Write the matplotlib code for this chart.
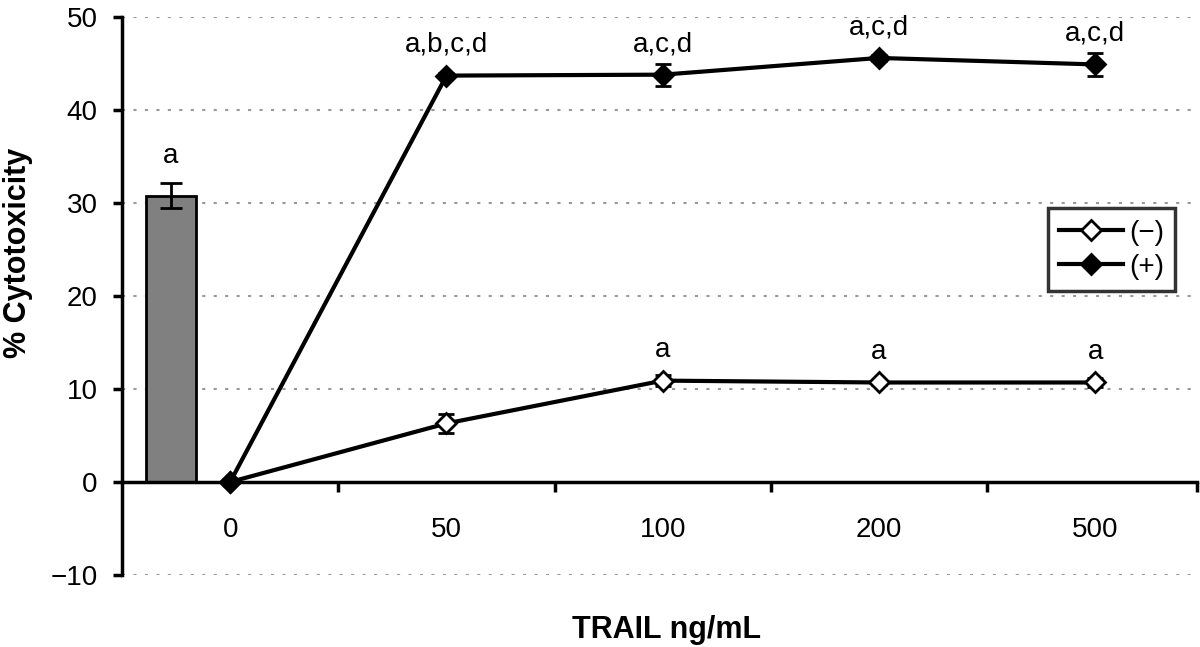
import numpy as np
import matplotlib.pyplot as plt
from matplotlib.lines import Line2D

plt.rcParams['font.family'] = ['Liberation Sans', 'DejaVu Sans']

# Werte
dosi = ['0', '50', '100', '200', '500']
neg_val = [0.0, 6.3, 10.9, 10.7, 10.7]
neg_err = [0.0, 1.0, 0.6, 0.3, 0.5]
pos_val = [0.0, 43.7, 43.8, 45.6, 44.9]
pos_err = [0.0, 0.3, 1.2, 0.3, 1.2]
bar_val = 30.8
bar_err = 1.3
bar_lettera = 'a'
neg_lettere = ['', '', 'a', 'a', 'a']
pos_lettere = ['', 'a,b,c,d', 'a,c,d', 'a,c,d', 'a,c,d']
y_ticks = [-10, 0, 10, 20, 30, 40, 50]


def main():
    fig = plt.figure(figsize=(12, 6.47), dpi=100)
    ax = fig.add_axes([0.1017, 0.1113, 0.8958, 0.8624])

    x = np.arange(len(dosi))
    x_bar = -0.275

    # barra di controllo
    ax.bar(x_bar, bar_val, width=0.23, color='#808080', edgecolor='black',
           linewidth=2, zorder=2)
    ax.errorbar(x_bar, bar_val, yerr=bar_err, fmt='none', ecolor='black',
                elinewidth=2, capsize=8, capthick=2, zorder=3)

    ax.errorbar(x, neg_val, yerr=neg_err, color='black', lw=3, marker='D',
                ms=10, mfc='white', mec='black', mew=2, ecolor='black',
                elinewidth=2, capsize=6, capthick=2.5, zorder=4)
    ax.errorbar(x, pos_val, yerr=pos_err, color='black', lw=3, marker='D',
                ms=10, mfc='black', mec='black', mew=2, ecolor='black',
                elinewidth=2, capsize=6, capthick=2.5, zorder=4)

    # lettere di significatività
    ax.text(x_bar, bar_val + bar_err + 1.6, bar_lettera, ha='center',
            va='bottom', fontsize=20)
    for i in range(len(dosi)):
        if neg_lettere[i]:
            ax.text(x[i], neg_val[i] + 1.9, neg_lettere[i], ha='center',
                    va='bottom', fontsize=20)
        if pos_lettere[i]:
            ax.text(x[i], pos_val[i] + 1.9, pos_lettere[i], ha='center',
                    va='bottom', fontsize=20)

    ax.set_xlim(-0.5, 4.47)
    ax.set_ylim(-10, 50)
    ax.set_yticks(y_ticks)
    ax.set_yticklabels([str(v).replace('-', '\u2212') for v in y_ticks])
    for y in y_ticks:
        if y != 0:
            ax.axhline(y, color='#999999', lw=1.5, ls=(0, (1.5, 4)), zorder=1)

    ax.spines['top'].set_visible(False)
    ax.spines['right'].set_visible(False)
    ax.spines['left'].set_linewidth(2.5)
    ax.spines['bottom'].set_linewidth(2.5)
    ax.spines['bottom'].set_position(('data', 0))
    ax.spines['left'].set_zorder(5)
    ax.spines['bottom'].set_zorder(5)

    ax.set_xticks(x)
    ax.set_xticklabels(dosi)
    ax.set_xticks([0.5, 1.5, 2.5, 3.5, 4.47], minor=True)
    ax.tick_params(axis='x', which='major', length=0, pad=25, labelsize=20)
    ax.tick_params(axis='x', which='minor', direction='out', length=7,
                   width=2.5)
    ax.tick_params(axis='y', direction='out', length=6.5, width=2.5,
                   labelsize=20, pad=11)

    ax.set_ylabel('% Cytotoxicity', fontsize=22, fontweight='bold')
    ax.yaxis.set_label_coords(-0.083, 0.578)
    ax.set_xlabel('TRAIL ng/mL', fontsize=22, fontweight='bold')
    ax.xaxis.set_label_coords(0.507, -0.072)

    maniglie = [
        Line2D([], [], color='black', lw=3, marker='D', ms=10, mfc='white',
               mec='black', mew=2),
        Line2D([], [], color='black', lw=3, marker='D', ms=10, mfc='black',
               mec='black', mew=2),
    ]
    leg = ax.legend(maniglie, ['(\u2212)', '(+)'], loc='upper right',
                    bbox_to_anchor=(0.9795, 0.657), fontsize=20, frameon=True,
                    fancybox=False, edgecolor='black', handlelength=2.3,
                    borderpad=0.4, labelspacing=0.3, handletextpad=0.2,
                    borderaxespad=0)
    leg.get_frame().set_linewidth(2.5)

    fig.savefig('out.png', dpi=100)


if __name__ == "__main__":
    main()
